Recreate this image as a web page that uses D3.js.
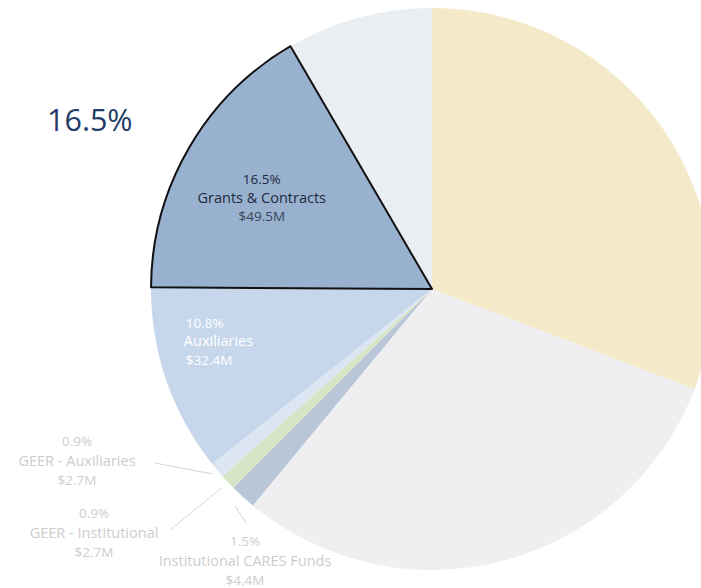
<!DOCTYPE html>
<html lang="en">
<head>
    <meta charset="UTF-8">
    <title>Revenue Sources</title>
    <style>
        body, html {
            margin: 0;
            padding: 0;
            background: #fff;
            overflow: hidden;
            font-family: 'Open Sans', sans-serif;
        }
        .outer text { fill: #cdcdcd; }
    </style>
</head>
<body>
<div id="chart"></div>
<script src="https://d3js.org/d3.v7.min.js"></script>
<script>
    // slices, clockwise from 12 o'clock
    const names = ["Tuition & Fees", "State Appropriations", "Institutional CARES Funds",
        "GEER - Institutional", "GEER - Auxiliaries", "Auxiliaries", "Grants & Contracts", "Other"];
    const shares = [30.8, 30.2, 1.5, 0.9, 0.9, 10.8, 16.5, 8.4];
    const amounts = ["", "", "$4.4M", "$2.7M", "$2.7M", "$32.4M", "$49.5M", ""];
    const colors = ["#f4e9c9", "#efeff1", "#b9c6d8", "#d5e5c6", "#dce6f2", "#c6d7ec", "#98b1cf", "#e9eef3"];

    const width = 701, height = 588;
    const cx = 432, cy = 289, r = 281;
    const highlight = 6;
    const small = "13.5px", big = "14.5px";

    const svg = d3.select("#chart").append("svg")
        .attr("width", width)
        .attr("height", height);

    const slices = names.map((n, i) => ({name: n, share: shares[i], amount: amounts[i], color: colors[i], i: i}));

    const pie = d3.pie().sort(null).value(d => d.share);
    const arcs = pie(slices);
    const arc = d3.arc().innerRadius(0).outerRadius(r);

    const g = svg.append("g").attr("transform", `translate(${cx},${cy})`);

    g.selectAll("path.slice")
        .data(arcs.filter(d => d.data.i !== highlight))
        .enter().append("path")
        .attr("class", "slice")
        .attr("d", arc)
        .attr("fill", d => d.data.color);

    g.selectAll("path.hl")
        .data(arcs.filter(d => d.data.i === highlight))
        .enter().append("path")
        .attr("class", "hl")
        .attr("d", arc)
        .attr("fill", d => d.data.color)
        .attr("stroke", "#111")
        .attr("stroke-width", 2)
        .attr("stroke-linejoin", "round");

    const pt = (a, rad) => [Math.sin(a) * rad, -Math.cos(a) * rad];
    const mid = d => (d.startAngle + d.endAngle) / 2;

    // inner labels
    const gc = arcs[highlight];
    const gp = pt(mid(gc), r * 0.7);
    const inner = g.append("g").attr("class", "inner");
    const gt = inner.append("text")
        .attr("text-anchor", "middle")
        .attr("fill", "#1e2a3a");
    [gc.data.share.toFixed(1) + "%", gc.data.name, gc.data.amount].forEach((t, k) => {
        gt.append("tspan").attr("x", gp[0]).attr("y", gp[1] - 6 + k * 18.5)
            .attr("font-size", k === 1 ? big : small)
            .attr("fill", k === 2 ? "#3a4656" : "#1e2a3a")
            .text(t);
    });

    const ax = arcs[5];
    const ap = pt(mid(ax), r * 0.75);
    const at = inner.append("text")
        .attr("text-anchor", "start")
        .attr("fill", "#ffffff");
    [ax.data.share.toFixed(1) + "%", ax.data.name, ax.data.amount].forEach((t, k) => {
        at.append("tspan").attr("x", ap[0] - 47 + (k === 1 ? -2 : 0)).attr("y", ap[1] - 30 + k * 18.5)
            .attr("font-size", k === 1 ? big : small)
            .text(t);
    });

    // outer labels with leader lines
    const outerSpec = [
        {i: 4, lx: 77, ly: 441, l0: 287, lend: [155, 463]},
        {i: 3, lx: 94, ly: 513, l0: 290, lend: [170, 530]},
        {i: 2, lx: 245, ly: 541, l0: 293, lend: [246, 523]}
    ];
    const outer = svg.append("g").attr("class", "outer");
    outerSpec.forEach(s => {
        const d = arcs[s.i];
        const p = pt(mid(d), s.l0);
        outer.append("line")
            .attr("x1", cx + p[0]).attr("y1", cy + p[1])
            .attr("x2", s.lend[0]).attr("y2", s.lend[1])
            .attr("stroke", "#d4d4d4")
            .attr("stroke-width", 1);
        const t = outer.append("text").attr("text-anchor", "middle");
        [d.data.share.toFixed(1) + "%", d.data.name, d.data.amount].forEach((txt, k) => {
            t.append("tspan").attr("x", s.lx).attr("y", s.ly + 5 + k * 19.5)
                .attr("font-size", k === 1 ? big : small)
                .text(txt);
        });
    });

    // callout
    svg.append("text")
        .attr("x", 47).attr("y", 131)
        .attr("fill", "#1f3d66")
        .attr("font-size", "30.5px")
        .text(gc.data.share.toFixed(1) + "%");
</script>
</body>
</html>
